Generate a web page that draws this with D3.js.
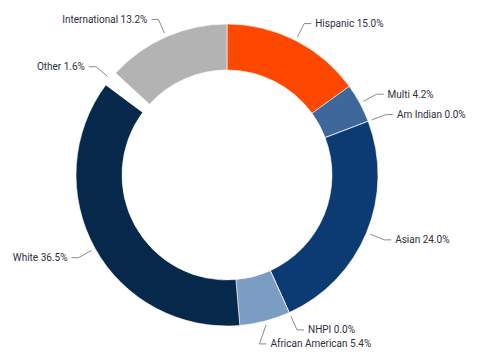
<!DOCTYPE html>
<html>
<head>
<meta charset="utf-8">
<script src="https://cdn.jsdelivr.net/npm/d3@7"></script>
<style>
body { margin: 0; background: #fff; }
svg { display: block; }
</style>
</head>
<body>
<svg class="canvas"></svg>
<script>
/*
	donut of enrolment by ethnicity
*/

var dwidth = 477;
var dheight = 364;
var cx = 227;
var cy = 175;
var rout = 151;
var rin = 105;

// data, clockwise from the top
var groups = ["Hispanic", "Multi", "Am Indian", "Asian", "NHPI", "African American", "White", "Other", "International"];
var shares = [15.0, 4.2, 0.0, 24.0, 0.0, 5.4, 36.5, 1.6, 13.2];
var colors = ["#fe4701", "#3e679c", "#ffffff", "#0c3a73", "#ffffff", "#7b9cc3", "#06294b", "#ffffff", "#b3b3b3"];

var canv = d3.select(".canvas");
canv.attr("width", dwidth).attr("height", dheight);

var data = groups.map(function(g, i) { return {name: g, value: shares[i], col: colors[i]}; });

var pie = d3.pie().sort(null).value(function(d) { return d.value; });
var arcs = pie(data);

var arcGenerator = d3.arc().innerRadius(rin).outerRadius(rout);

var g = canv.append("g").attr("transform", "translate(" + cx + "," + cy + ")");

g.selectAll("path")
	.data(arcs)
	.enter()
	.append("path")
	.attr("d", arcGenerator)
	.style("fill", function(d) { return d.data.col; })
	.style("stroke", "#fff")
	.style("stroke-width", 0.6);

/*
	labels with connectors
*/
var rstart = rout + 4;
var relbow = 170;
var hlen = 7;
var minGap = 14;

arcs.forEach(function(d) {
	var a = (d.startAngle + d.endAngle) / 2;
	d.mid = a;
	d.side = Math.sin(a) >= 0 ? 1 : -1;
	d.sx = rstart * Math.sin(a);
	d.sy = -rstart * Math.cos(a);
	d.ey = -relbow * Math.cos(a);
});

// push overlapping labels apart on each side
[1, -1].forEach(function(side) {
	var list = arcs.filter(function(d) { return d.side == side; })
		.sort(function(a, b) { return a.ey - b.ey; });
	for (var i = 1; i < list.length; i++) {
		if (list[i].ey - list[i-1].ey < minGap) { list[i].ey = list[i-1].ey + minGap; }
	}
});

arcs.forEach(function(d) {
	var rr = relbow + 2;
	var dx = Math.sqrt(Math.max(0, rr*rr - d.ey*d.ey));
	var ex0 = relbow * Math.sin(d.mid);
	d.ex = Math.abs(d.ey + relbow * Math.cos(d.mid)) > 0.5 ? d.side * dx : ex0;
	d.hx = d.ex + d.side * hlen;
});

g.selectAll("polyline")
	.data(arcs)
	.enter()
	.append("polyline")
	.attr("points", function(d) {
		return [[d.sx, d.sy], [d.ex, d.ey], [d.hx, d.ey]].join(" ");
	})
	.style("fill", "none")
	.style("stroke", "#8a8a8a")
	.style("stroke-width", 1);

g.selectAll("text")
	.data(arcs)
	.enter()
	.append("text")
	.attr("x", function(d) { return d.hx + d.side * 4; })
	.attr("y", function(d) { return d.ey; })
	.attr("dy", "0.35em")
	.style("text-anchor", function(d) { return d.side > 0 ? "start" : "end"; })
	.style("font-family", "Roboto, 'Noto Sans', sans-serif")
	.style("font-size", "10px")
	.style("fill", "#2e2e3e")
	.text(function(d) { return d.data.name + " " + d.data.value.toFixed(1) + "%"; });
</script>
</body>
</html>
